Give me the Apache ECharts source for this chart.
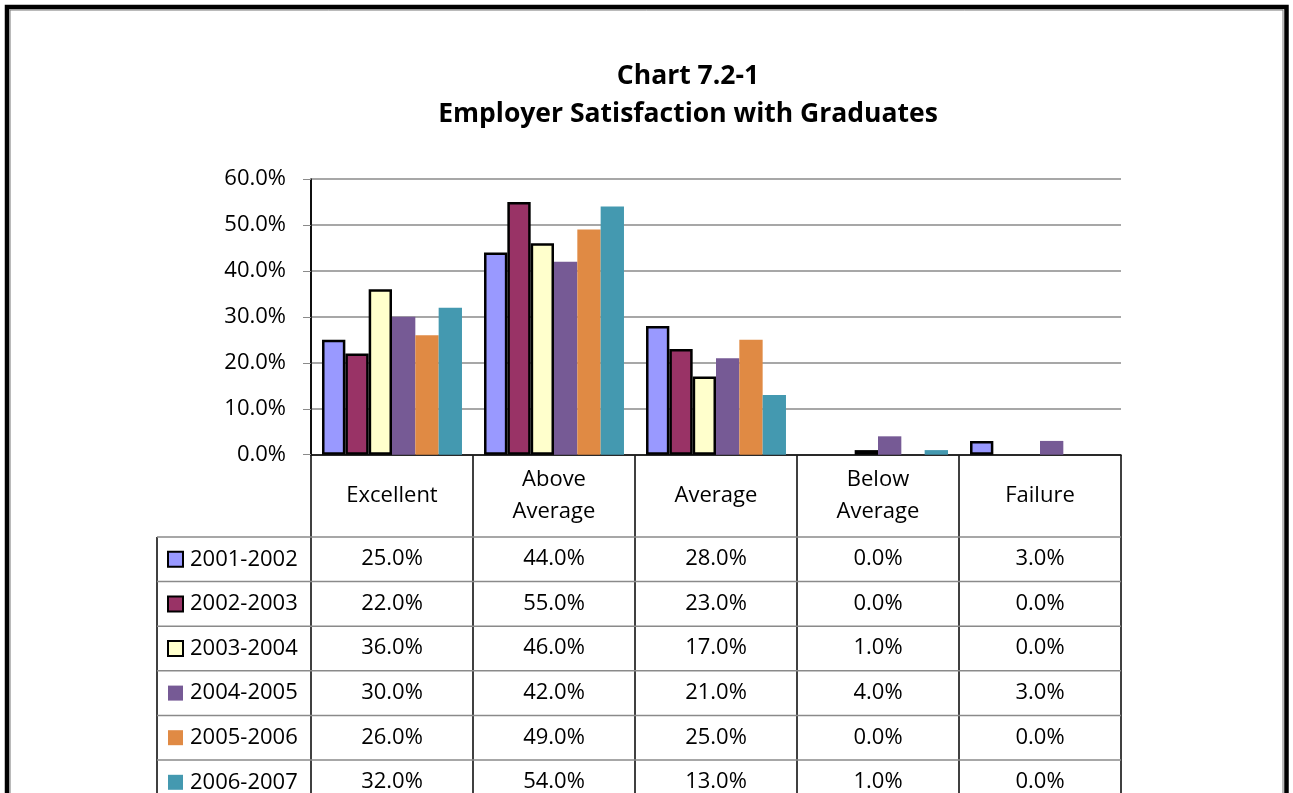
<!DOCTYPE html>
<html>
<head>
<meta charset="utf-8">
<title>Chart 7.2-1</title>
<script src="https://cdn.jsdelivr.net/npm/echarts@6/dist/echarts.min.js"></script>
<style>
  html, body { margin: 0; padding: 0; background: #fff; }
  #chart { width: 1293px; height: 793px; }
</style>
</head>
<body>
<div id="chart"></div>
<script>
const categories = ['Excellent', 'Above\nAverage', 'Average', 'Below\nAverage', 'Failure'];
const years = ['2001-2002', '2002-2003', '2003-2004', '2004-2005', '2005-2006', '2006-2007'];
const y2001 = [25, 44, 28, 0, 3];
const y2002 = [22, 55, 23, 0, 0];
const y2003 = [36, 46, 17, 1, 0];
const y2004 = [30, 42, 21, 4, 3];
const y2005 = [26, 49, 25, 0, 0];
const y2006 = [32, 54, 13, 1, 0];
const yTicks = [0, 10, 20, 30, 40, 50, 60];

const rows = [y2001, y2002, y2003, y2004, y2005, y2006];
const colors = ['#9999ff', '#993366', '#ffffcc', '#765a95', '#e08a44', '#4499b0'];
const outlined = [true, true, true, false, false, false];

const font = '"Open Sans", Lato, sans-serif';
const pct = v => v.toFixed(1) + '%';

// layout
const gl = 311, gt = 179, gw = 810, gh = 276;
const base = gt + gh;
const headerH = 82, rowH = 44.6, tableLeft = 157, catW = gw / 5;
const tableTop = base + headerH;

const chart = echarts.init(document.getElementById('chart'));

const xAxes = [{
  type: 'category',
  data: categories,
  position: 'bottom',
  axisLine: { lineStyle: { color: '#000', width: 1.5 } },
  axisTick: { show: false },
  axisLabel: {
    color: '#000', fontSize: 22, fontFamily: font, lineHeight: 32,
    margin: headerH / 2, verticalAlign: 'middle', align: 'center'
  }
}];
// one hidden axis per table row, its labels are the row values
rows.forEach((r, i) => {
  xAxes.push({
    type: 'category',
    data: categories,
    position: 'bottom',
    axisLine: { show: false },
    axisTick: { show: false },
    axisLabel: {
      color: '#000', fontSize: 22, fontFamily: font,
      margin: headerH + rowH * (i + 0.5), verticalAlign: 'middle',
      formatter: (v, idx) => pct(r[idx])
    }
  });
});

const lines = [];
for (let k = 0; k <= 5; k++) {
  const x = gl + k * catW;
  lines.push({ type: 'line', shape: { x1: x, y1: k === 0 ? gt : base, x2: x, y2: 800 },
    style: { stroke: '#000', lineWidth: 1.5 } });
}
lines.push({ type: 'line', shape: { x1: tableLeft, y1: tableTop, x2: tableLeft, y2: 800 },
  style: { stroke: '#000', lineWidth: 1.5 } });
for (let i = 0; i < rows.length; i++) {
  const y = tableTop + i * rowH;
  lines.push({ type: 'line', shape: { x1: tableLeft, y1: y, x2: gl + gw, y2: y },
    style: { stroke: '#8a8a8a', lineWidth: 1.5 } });
}
lines.push({ type: 'rect', shape: { x: 7, y: 7, width: 1279.5, height: 900 },
  style: { fill: 'none', stroke: '#000', lineWidth: 4.5 } });
lines.push({ type: 'rect', shape: { x: 10, y: 10, width: 1273, height: 900 },
  style: { fill: 'none', stroke: '#777', lineWidth: 1 } });

chart.setOption({
  animation: false,
  title: {
    text: 'Chart 7.2-1\nEmployer Satisfaction with Graduates',
    left: 683, top: 52, textAlign: 'center',
    textStyle: { fontSize: 26.5, fontWeight: 'bold', fontFamily: font, color: '#000', lineHeight: 38 }
  },
  legend: {
    orient: 'vertical', left: 167, top: tableTop + rowH / 2 - 11, height: 320, padding: 0,
    itemWidth: 15, itemHeight: 15, itemGap: rowH - 22, icon: 'rect',
    data: years,
    textStyle: { fontSize: 22, lineHeight: 22, fontFamily: font, color: '#000', padding: [0, 0, 0, 2] }
  },
  grid: { left: gl, top: gt, width: gw, height: gh },
  xAxis: xAxes,
  yAxis: {
    type: 'value', min: 0, max: 60, interval: 10,
    axisLine: { show: true, lineStyle: { color: '#000', width: 1.5 } },
    axisTick: { show: true, length: 8, lineStyle: { color: '#8a8a8a' } },
    splitLine: { lineStyle: { color: '#8a8a8a', width: 1.5 } },
    axisLabel: {
      color: '#000', fontSize: 22, fontFamily: font, margin: 25,
      formatter: v => yTicks.includes(v) ? pct(v) : ''
    }
  },
  series: rows.map((r, i) => ({
    name: years[i],
    type: 'bar',
    data: r.map(v => v === 0 ? { value: v, itemStyle: { borderWidth: 0 } } : v),
    barGap: '0%',
    barCategoryGap: '13.6%',
    itemStyle: {
      color: colors[i],
      borderColor: outlined[i] ? '#000' : colors[i],
      borderWidth: outlined[i] ? 2.5 : 0
    }
  })),
  graphic: lines
});
</script>
</body>
</html>
